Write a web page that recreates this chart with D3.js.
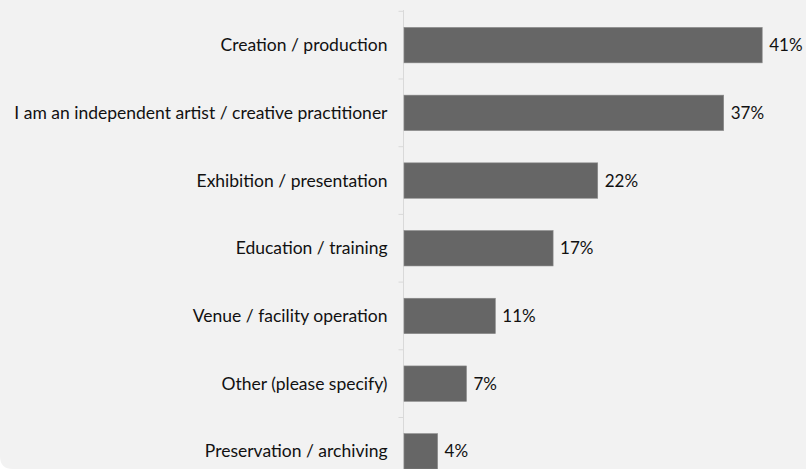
<!DOCTYPE html>
<html><head><meta charset="utf-8">
<script src="https://cdn.jsdelivr.net/npm/d3@7"></script>
<style>html,body{margin:0;padding:0;background:#fff;}svg{display:block;}</style>
</head><body>
<svg id="chart" width="806" height="469"></svg>
<script>
const categories = [
  "Creation / production",
  "I am an independent artist / creative practitioner",
  "Exhibition / presentation",
  "Education / training",
  "Venue / facility operation",
  "Other (please specify)",
  "Preservation / archiving"
];
const values = [41.0, 36.6, 22.2, 17.1, 10.5, 7.2, 3.9];
const valueLabels = ["41%", "37%", "22%", "17%", "11%", "7%", "4%"];

const W = 806, H = 469;
const svg = d3.select("#chart");
const font = "Lato, 'Open Sans', sans-serif";

// background
svg.append("rect").attr("width", W).attr("height", H).attr("fill", "#f2f2f2");
svg.append("path").attr("d", `M0,456 Q0,469 13,469 L0,469 Z`).attr("fill", "#ffffff");

const x0 = 403.5;
const x = d3.scaleLinear().domain([0, 41]).range([x0, x0 + 358.7]);
const y = d3.scaleBand().domain(categories).range([11.3, 485.2])
  .paddingInner(0.477).paddingOuter(0.2385);
const step = y.step();

// axis line
svg.append("line").attr("x1", x0).attr("x2", x0).attr("y1", 10).attr("y2", H)
  .attr("stroke", "#d9d9d9").attr("stroke-width", 1);
// ticks at band boundaries
const bounds = categories.map(c => y(c) - y.paddingInner() * step / 2);
svg.selectAll("line.tick").data(bounds).join("line").attr("class", "tick")
  .attr("x1", x0 - 5).attr("x2", x0).attr("y1", d => d).attr("y2", d => d)
  .attr("stroke", "#d9d9d9").attr("stroke-width", 1);

// bars
svg.selectAll("rect.bar").data(categories).join("rect").attr("class", "bar")
  .attr("x", x(0) + 0.5).attr("y", d => y(d))
  .attr("width", (d, i) => x(values[i]) - x(0) - 0.5)
  .attr("height", y.bandwidth())
  .attr("fill", "#666666").attr("stroke", "#8a8a8a").attr("stroke-width", 0.6);

// category labels
svg.selectAll("text.cat").data(categories).join("text").attr("class", "cat")
  .attr("x", x0 - 16).attr("y", d => y(d) + y.bandwidth() / 2)
  .attr("dy", "0.35em").attr("text-anchor", "end")
  .attr("font-family", font).attr("font-size", 17.5).attr("fill", "#111")
  .text(d => d);

// value labels
svg.selectAll("text.val").data(categories).join("text").attr("class", "val")
  .attr("x", (d, i) => x(values[i]) + 7).attr("y", d => y(d) + y.bandwidth() / 2)
  .attr("dy", "0.35em").attr("text-anchor", "start")
  .attr("font-family", font).attr("font-size", 17).attr("fill", "#111")
  .text((d, i) => valueLabels[i]);
</script>
</body></html>
